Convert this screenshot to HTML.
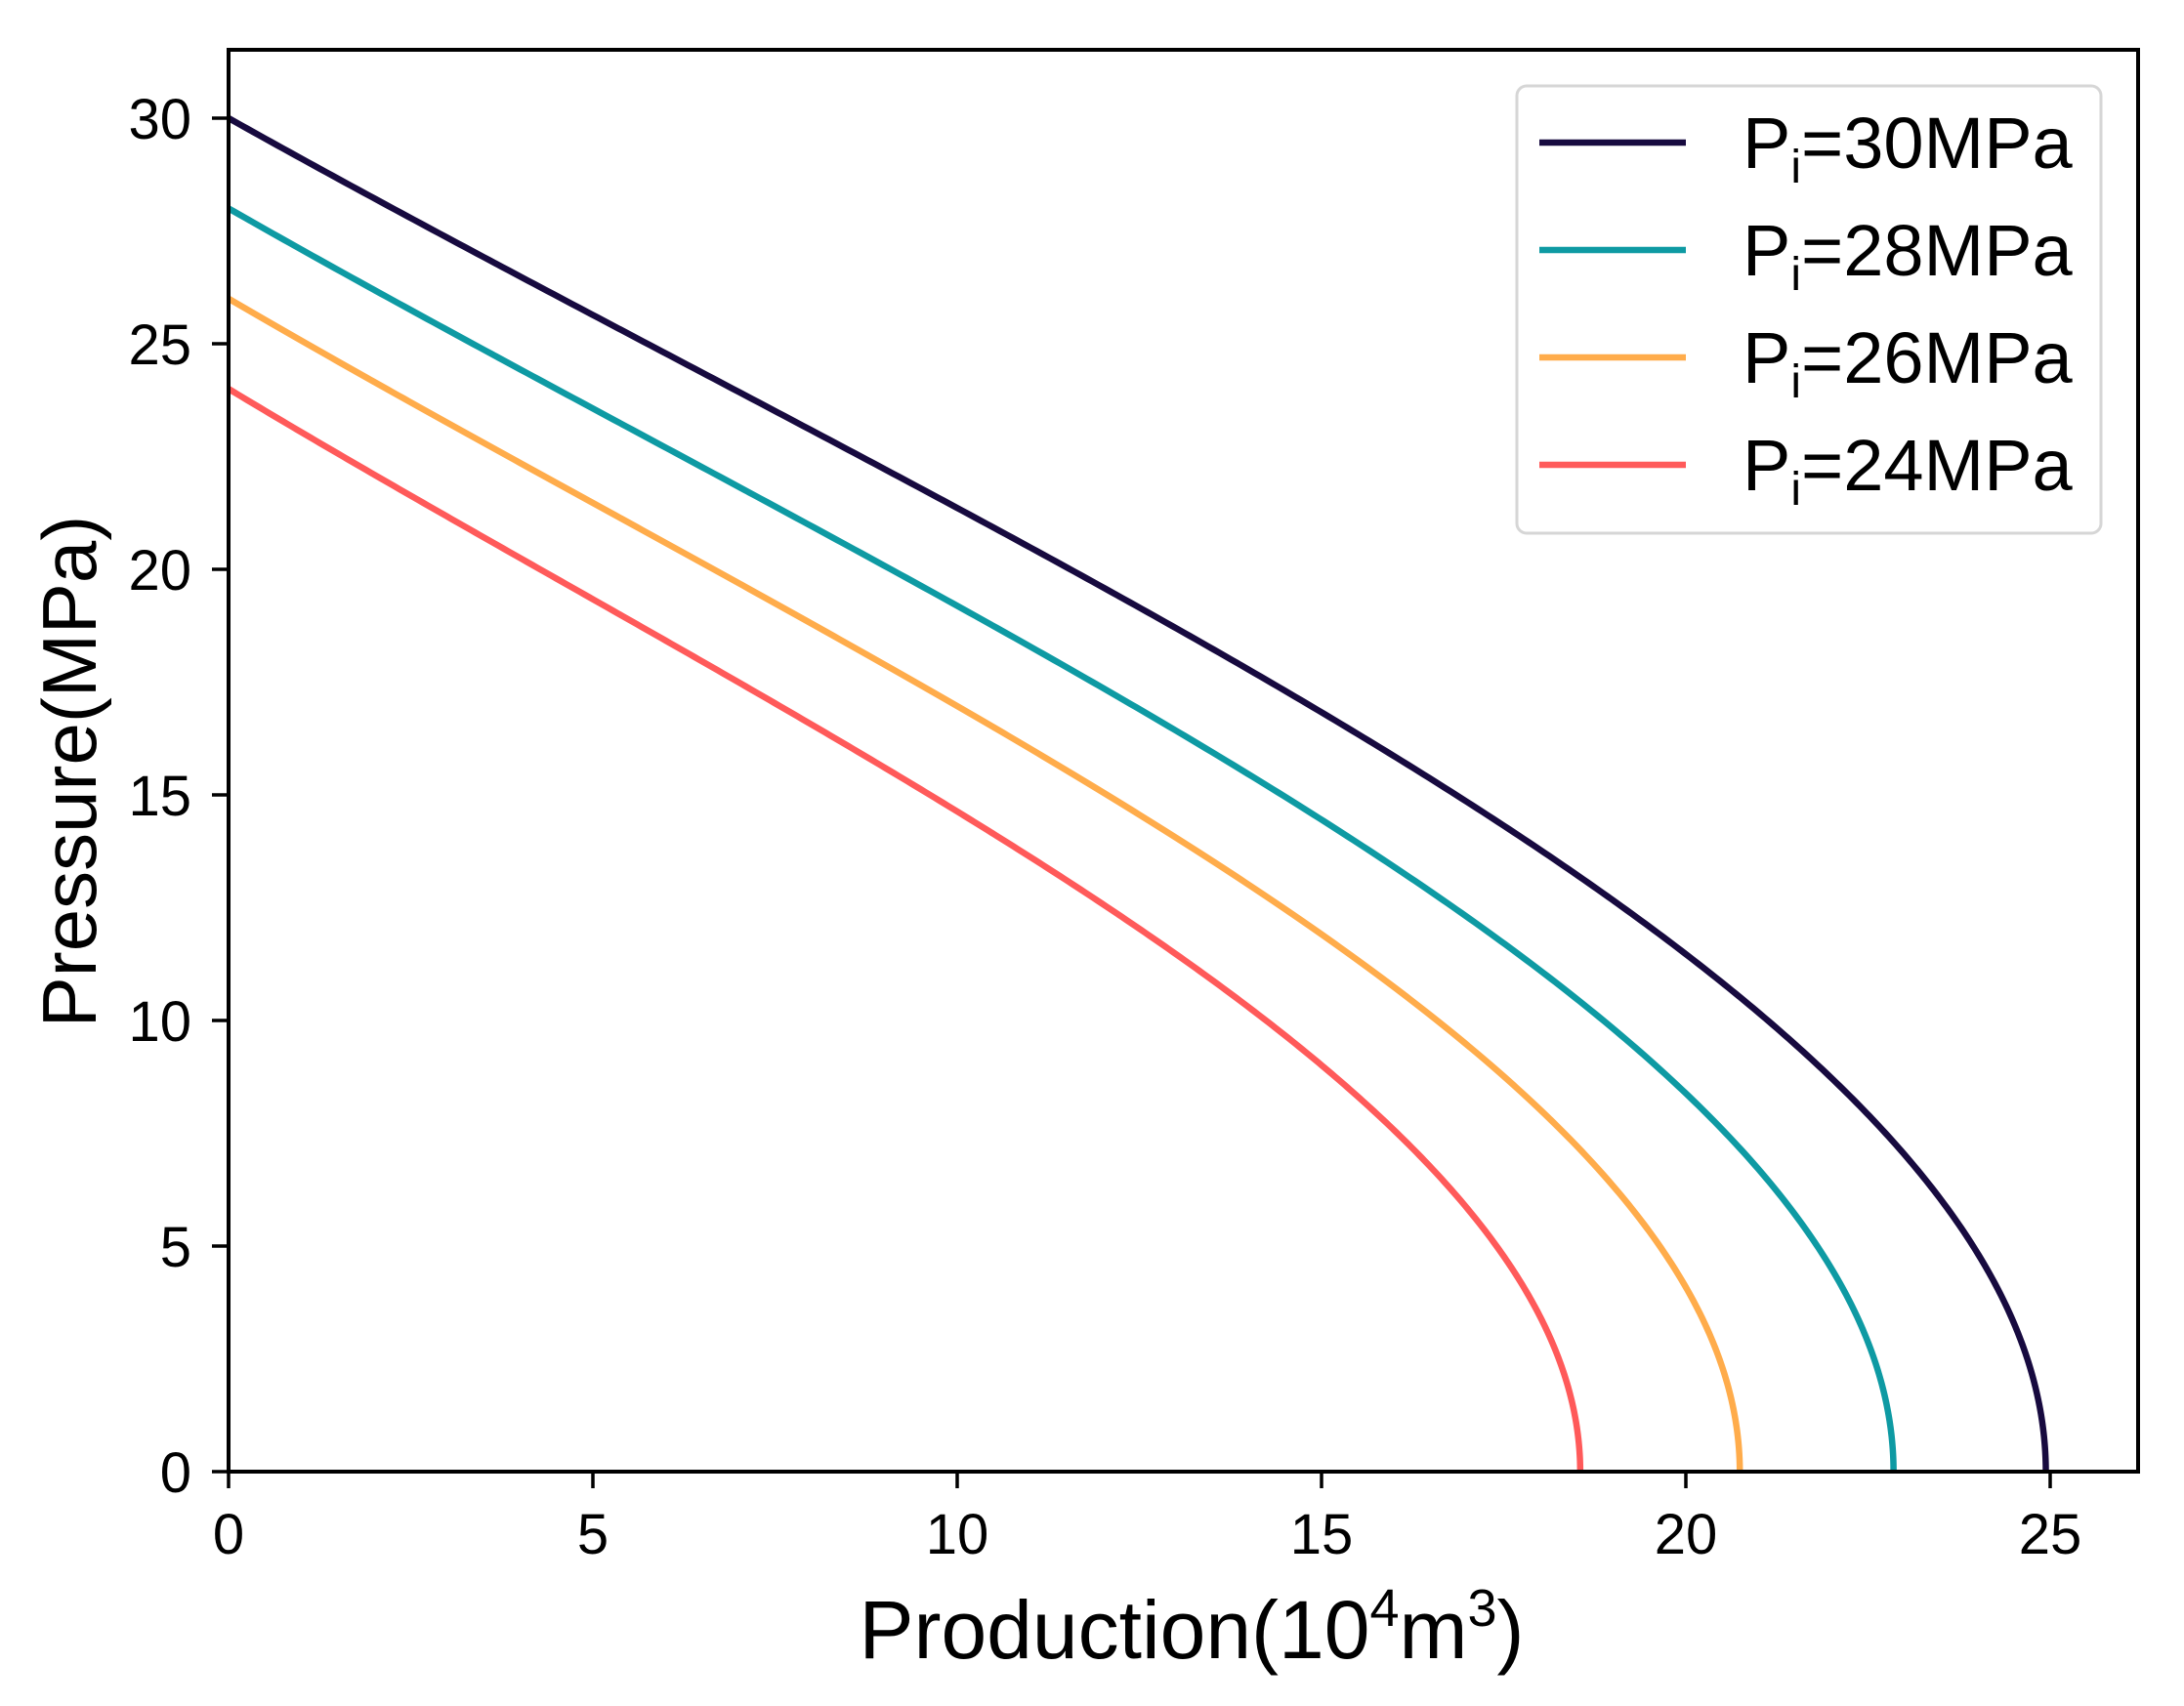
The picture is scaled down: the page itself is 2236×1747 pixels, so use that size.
<!DOCTYPE html>
<html><head><meta charset="utf-8"><style>
html,body{margin:0;padding:0;background:#fff;}
svg{display:block}
text{font-family:"Liberation Sans","DejaVu Sans",sans-serif;fill:#000}
</style></head><body>
<svg id="s" width="2236" height="1747" viewBox="0 0 2236 1747" xmlns="http://www.w3.org/2000/svg">
<rect x="0" y="0" width="2236" height="1747" fill="#fff"/>
<g id="curves" fill="none" stroke-width="6.5" stroke-linejoin="round"></g>
<rect x="234" y="51" width="1955" height="1456" fill="none" stroke="#000" stroke-width="4"/>
<g stroke="#000" stroke-width="3.5">
<line x1="234" y1="1507" x2="234" y2="1524"/><line x1="607" y1="1507" x2="607" y2="1524"/>
<line x1="980" y1="1507" x2="980" y2="1524"/><line x1="1353" y1="1507" x2="1353" y2="1524"/>
<line x1="1726" y1="1507" x2="1726" y2="1524"/><line x1="2099" y1="1507" x2="2099" y2="1524"/>
<line x1="217" y1="1507" x2="234" y2="1507"/><line x1="217" y1="1276" x2="234" y2="1276"/>
<line x1="217" y1="1045" x2="234" y2="1045"/><line x1="217" y1="814" x2="234" y2="814"/>
<line x1="217" y1="583" x2="234" y2="583"/><line x1="217" y1="352" x2="234" y2="352"/>
<line x1="217" y1="121" x2="234" y2="121"/>
</g>
<g font-size="58" text-anchor="middle">
<text x="234" y="1591">0</text><text x="607" y="1591">5</text><text x="980" y="1591">10</text>
<text x="1353" y="1591">15</text><text x="1726" y="1591">20</text><text x="2099" y="1591">25</text>
</g>
<g font-size="58" text-anchor="end">
<text x="196" y="1528">0</text><text x="196" y="1297">5</text><text x="196" y="1066">10</text>
<text x="196" y="835">15</text><text x="196" y="604">20</text><text x="196" y="373">25</text>
<text x="196" y="142">30</text>
</g>
<text x="1220" y="1698" font-size="84" text-anchor="middle">Production(10<tspan font-size="54" dy="-33">4</tspan><tspan dy="33">m</tspan><tspan font-size="54" dy="-33">3</tspan><tspan dy="33">)</tspan></text>
<text transform="translate(98,790) rotate(-90)" font-size="78" text-anchor="middle">Pressure(MPa)</text>
<rect x="1553" y="88" width="598" height="458" rx="10" fill="#fff" stroke="#d6d6d6" stroke-width="3"/>
<g stroke-width="6.5">
<line x1="1576" y1="146" x2="1726" y2="146" stroke="#170a3f"/>
<line x1="1576" y1="256" x2="1726" y2="256" stroke="#0e9aa3"/>
<line x1="1576" y1="366" x2="1726" y2="366" stroke="#ffac4b"/>
<line x1="1576" y1="476" x2="1726" y2="476" stroke="#ff5a5a"/>
</g>
<g font-size="74">
<text x="1784" y="172">P<tspan font-size="48" dy="15">i</tspan><tspan dy="-15">=30MPa</tspan></text>
<text x="1784" y="282">P<tspan font-size="48" dy="15">i</tspan><tspan dy="-15">=28MPa</tspan></text>
<text x="1784" y="392">P<tspan font-size="48" dy="15">i</tspan><tspan dy="-15">=26MPa</tspan></text>
<text x="1784" y="502">P<tspan font-size="48" dy="15">i</tspan><tspan dy="-15">=24MPa</tspan></text>
</g>
</svg>
<script>
(function(){
var series=[[30,24.94,"#170a3f"],[28,22.85,"#0e9aa3"],[26,20.74,"#ffac4b"],[24,18.55,"#ff5a5a"]];
var g=document.getElementById("curves");
var x0=234,xs=74.6,y0=1507,ys=46.2;
series.forEach(function(sr){
 var pi=sr[0],gm=sr[1],d="";
 for(var i=0;i<=400;i++){
  var s=1-i/400;
  var f=s*s*(1.48-0.48*Math.pow(s,1.4));
  var G=gm*(1-f),P=pi*s;
  d+=(i?"L":"M")+(x0+G*xs).toFixed(2)+","+(y0-P*ys).toFixed(2);
 }
 var p=document.createElementNS("http://www.w3.org/2000/svg","path");
 p.setAttribute("d",d);p.setAttribute("stroke",sr[2]);g.appendChild(p);
});
})();
</script>
</body></html>
